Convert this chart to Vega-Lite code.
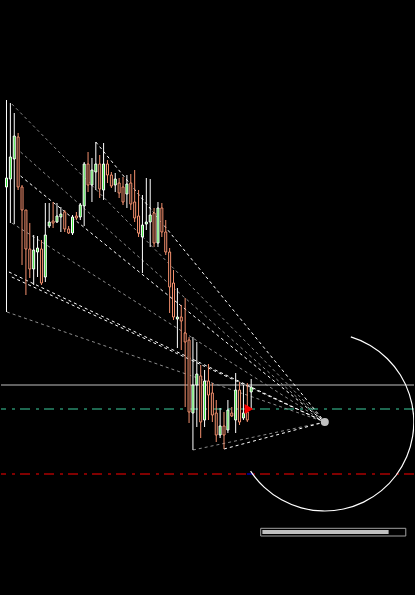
{
  "$schema": "https://vega.github.io/schema/vega-lite/v6.json",
  "autosize": {"type": "fit", "contains": "padding"},
  "padding": 0,
  "width": 415,
  "height": 595,
  "background": "#000000",
  "config": {"view": {"stroke": null}},
  "datasets": {
    "candles": [
      {"k":0,"o":413,"h":500,"l":288,"c":422,"dir":"up"},
      {"k":1,"o":421,"h":497,"l":377,"c":443,"dir":"up"},
      {"k":2,"o":441,"h":487,"l":376,"c":464,"dir":"up"},
      {"k":3,"o":463,"h":467,"l":410,"c":413,"dir":"down"},
      {"k":4,"o":413,"h":415,"l":335,"c":390,"dir":"down"},
      {"k":5,"o":390,"h":390,"l":305,"c":351,"dir":"down"},
      {"k":6,"o":351,"h":377,"l":322,"c":331,"dir":"down"},
      {"k":7,"o":331,"h":365,"l":315,"c":350,"dir":"up"},
      {"k":8,"o":348,"h":364,"l":323,"c":352,"dir":"up"},
      {"k":9,"o":351,"h":360,"l":315,"c":317,"dir":"down"},
      {"k":10,"o":323,"h":397,"l":318,"c":365,"dir":"up"},
      {"k":11,"o":374,"h":397,"l":372,"c":378,"dir":"up"},
      {"k":12,"o":379,"h":398,"l":372,"c":377,"dir":"down"},
      {"k":13,"o":378,"h":397,"l":377,"c":384,"dir":"up"},
      {"k":14,"o":383,"h":393,"l":368,"c":386,"dir":"up"},
      {"k":15,"o":388,"h":390,"l":368,"c":371,"dir":"down"},
      {"k":16,"o":371,"h":374,"l":366,"c":367,"dir":"down"},
      {"k":17,"o":367,"h":385,"l":365,"c":383,"dir":"up"},
      {"k":18,"o":384,"h":388,"l":380,"c":382,"dir":"down"},
      {"k":19,"o":383,"h":397,"l":380,"c":395,"dir":"up"},
      {"k":20,"o":394,"h":438,"l":374,"c":436,"dir":"up"},
      {"k":21,"o":436,"h":448,"l":408,"c":415,"dir":"down"},
      {"k":22,"o":415,"h":442,"l":398,"c":430,"dir":"up"},
      {"k":23,"o":428,"h":458,"l":410,"c":436,"dir":"up"},
      {"k":24,"o":436,"h":445,"l":402,"c":411,"dir":"down"},
      {"k":25,"o":410,"h":457,"l":400,"c":436,"dir":"up"},
      {"k":26,"o":436,"h":440,"l":417,"c":425,"dir":"down"},
      {"k":27,"o":425,"h":428,"l":412,"c":414,"dir":"down"},
      {"k":28,"o":415,"h":427,"l":408,"c":421,"dir":"up"},
      {"k":29,"o":417,"h":422,"l":402,"c":407,"dir":"down"},
      {"k":30,"o":413,"h":423,"l":395,"c":398,"dir":"down"},
      {"k":31,"o":406,"h":425,"l":392,"c":416,"dir":"up"},
      {"k":32,"o":417,"h":426,"l":390,"c":396,"dir":"down"},
      {"k":33,"o":398,"h":430,"l":378,"c":382,"dir":"down"},
      {"k":34,"o":384,"h":410,"l":363,"c":367,"dir":"down"},
      {"k":35,"o":363,"h":405,"l":327,"c":375,"dir":"up"},
      {"k":36,"o":376,"h":422,"l":370,"c":378,"dir":"up"},
      {"k":37,"o":378,"h":421,"l":353,"c":385,"dir":"up"},
      {"k":38,"o":387,"h":392,"l":353,"c":357,"dir":"down"},
      {"k":39,"o":357,"h":398,"l":353,"c":392,"dir":"up"},
      {"k":40,"o":392,"h":397,"l":363,"c":368,"dir":"down"},
      {"k":41,"o":368,"h":380,"l":345,"c":348,"dir":"down"},
      {"k":42,"o":348,"h":352,"l":287,"c":313,"dir":"down"},
      {"k":43,"o":317,"h":330,"l":280,"c":283,"dir":"down"},
      {"k":44,"o":281,"h":312,"l":252,"c":283,"dir":"up"},
      {"k":45,"o":283,"h":295,"l":250,"c":279,"dir":"down"},
      {"k":46,"o":267,"h":302,"l":193,"c":258,"dir":"down"},
      {"k":47,"o":260,"h":263,"l":177,"c":188,"dir":"down"},
      {"k":48,"o":187,"h":263,"l":150,"c":215,"dir":"up"},
      {"k":49,"o":215,"h":258,"l":173,"c":226,"dir":"up"},
      {"k":50,"o":224,"h":235,"l":162,"c":178,"dir":"down"},
      {"k":51,"o":180,"h":230,"l":173,"c":219,"dir":"up"},
      {"k":52,"o":219,"h":236,"l":180,"c":205,"dir":"down"},
      {"k":53,"o":207,"h":217,"l":178,"c":185,"dir":"down"},
      {"k":54,"o":187,"h":200,"l":158,"c":165,"dir":"down"},
      {"k":55,"o":165,"h":192,"l":162,"c":174,"dir":"up"},
      {"k":56,"o":174,"h":188,"l":151,"c":165,"dir":"down"},
      {"k":57,"o":170,"h":200,"l":167,"c":190,"dir":"up"},
      {"k":58,"o":187,"h":193,"l":183,"c":184,"dir":"down"},
      {"k":59,"o":180,"h":227,"l":167,"c":210,"dir":"up"},
      {"k":60,"o":210,"h":218,"l":175,"c":178,"dir":"down"},
      {"k":61,"o":182,"h":215,"l":180,"c":187,"dir":"up"},
      {"k":62,"o":188,"h":217,"l":178,"c":180,"dir":"down"},
      {"k":63,"o":208,"h":221,"l":191,"c":213,"dir":"up"}
    ],
    "fans": [
      {"id":"G1","k":1.375,"p":496,"tone":"gray"},{"id":"G1","k":81.95,"p":178,"tone":"gray"},
      {"id":"X1","k":3.625,"p":448,"tone":"gray"},{"id":"X1","k":81.95,"p":178,"tone":"gray"},
      {"id":"G2","k":1.375,"p":377,"tone":"gray"},{"id":"G2","k":81.95,"p":178,"tone":"gray"},
      {"id":"G3","k":0.125,"p":288,"tone":"gray"},{"id":"G3","k":81.95,"p":178,"tone":"gray"},
      {"id":"G4","k":48,"p":150,"tone":"gray"},{"id":"G4","k":81.95,"p":178,"tone":"gray"},
      {"id":"W1","k":23,"p":458,"tone":"white"},{"id":"W1","k":81.95,"p":178,"tone":"white"},
      {"id":"W2","k":3.625,"p":424,"tone":"white"},{"id":"W2","k":81.95,"p":178,"tone":"white"},
      {"id":"W3","k":0.625,"p":328,"tone":"white"},{"id":"W3","k":81.95,"p":178,"tone":"white"},
      {"id":"W4","k":1.375,"p":323,"tone":"white"},{"id":"W4","k":81.95,"p":178,"tone":"white"},
      {"id":"W5","k":56,"p":151,"tone":"white"},{"id":"W5","k":81.95,"p":178,"tone":"white"}
    ]
  },
  "encoding": {
    "x": {"type": "quantitative", "scale": {"domain": [-0.125, 103.625], "nice": false, "zero": false}, "axis": null},
    "y": {"type": "quantitative", "scale": {"domain": [5, 600], "nice": false, "zero": false}, "axis": null}
  },
  "layer": [
    {
      "data": {"values": [{"level": 215}]},
      "mark": {"type": "rule", "color": "#c0c0c0", "strokeWidth": 1},
      "encoding": {"y": {"field": "level", "type": "quantitative"}}
    },
    {
      "data": {"values": [{"level": 191}]},
      "mark": {"type": "rule", "color": "#3ccfa0", "strokeWidth": 1, "strokeDash": [10, 5, 3, 6]},
      "encoding": {"y": {"field": "level", "type": "quantitative"}}
    },
    {
      "data": {"values": [{"level": 126}]},
      "mark": {"type": "rule", "color": "#ff0000", "strokeWidth": 1, "strokeDash": [10, 5, 3, 6]},
      "encoding": {"y": {"field": "level", "type": "quantitative"}}
    },
    {
      "data": {"values": [{"k0": 61.9, "k1": 63.6, "level": 126}]},
      "mark": {"type": "rule", "color": "#0000ff", "strokeWidth": 1},
      "encoding": {
        "x": {"field": "k0", "type": "quantitative"},
        "x2": {"field": "k1"},
        "y": {"field": "level", "type": "quantitative"}
      }
    },
    {
      "data": {"name": "fans"},
      "mark": {"type": "line", "strokeWidth": 1, "strokeDash": [3, 3], "clip": true},
      "encoding": {
        "x": {"field": "k", "type": "quantitative"},
        "y": {"field": "p", "type": "quantitative"},
        "detail": {"field": "id", "type": "nominal"},
        "stroke": {"field": "tone", "type": "nominal", "scale": {"domain": ["up", "down", "white", "gray"], "range": ["#ffffff", "#f4906e", "#ffffff", "#8c8c8c"]}, "legend": null}
      }
    },
    {
      "data": {"name": "candles"},
      "mark": {"type": "rule", "strokeWidth": 1},
      "encoding": {
        "x": {"field": "k", "type": "quantitative"},
        "y": {"field": "h", "type": "quantitative"},
        "y2": {"field": "l"},
        "stroke": {"field": "dir", "type": "nominal", "legend": null}
      }
    },
    {
      "data": {"name": "candles"},
      "mark": {"type": "bar", "orient": "vertical", "size": 2, "strokeWidth": 1},
      "encoding": {
        "x": {"field": "k", "type": "quantitative"},
        "y": {"field": "o", "type": "quantitative"},
        "y2": {"field": "c"},
        "stroke": {"field": "dir", "type": "nominal", "legend": null},
        "fill": {"field": "dir", "type": "nominal", "scale": {"domain": ["up", "down"], "range": ["#33dd33", "#000000"]}, "legend": null}
      }
    },
    {
      "data": {"values": [{"k": 62.4, "p": 191}]},
      "mark": {"type": "point", "shape": "triangle-right", "filled": true, "color": "#ff0000", "size": 100, "opacity": 1},
      "encoding": {
        "x": {"field": "k", "type": "quantitative"},
        "y": {"field": "p", "type": "quantitative"}
      }
    },
    {
      "data": {"values": [{"cx": 81.95, "cy": 178, "a0": 17, "a1": 236.5, "r0": 88.4, "r1": 89.6}]},
      "mark": {"type": "arc", "fill": "#ffffff", "clip": true},
      "encoding": {
        "x": {"field": "cx", "type": "quantitative"},
        "y": {"field": "cy", "type": "quantitative"},
        "theta": {"field": "a0", "type": "quantitative", "stack": null, "scale": {"type": "linear", "domain": [0, 360], "range": [0, 6.283185307179586]}},
        "theta2": {"field": "a1"},
        "radius": {"field": "r1", "type": "quantitative", "scale": {"type": "linear", "domain": [0, 100], "range": [0, 100], "zero": true}},
        "radius2": {"field": "r0"}
      }
    },
    {
      "data": {"values": [{"k": 81.95, "p": 178}]},
      "mark": {"type": "point", "shape": "circle", "filled": true, "color": "#c0c0c0", "size": 64, "opacity": 1},
      "encoding": {
        "x": {"field": "k", "type": "quantitative"},
        "y": {"field": "p", "type": "quantitative"}
      }
    },
    {
      "data": {"values": [{"k0": 65.45, "k1": 102.8, "p0": 71.7, "p1": 64}]},
      "mark": {"type": "rect", "fill": null, "stroke": "#a0a0a0", "strokeWidth": 1},
      "encoding": {
        "x": {"field": "k0", "type": "quantitative"},
        "x2": {"field": "k1"},
        "y": {"field": "p0", "type": "quantitative"},
        "y2": {"field": "p1"}
      }
    },
    {
      "data": {"values": [{"k0": 65.875, "k1": 98.375, "p0": 70, "p1": 66}]},
      "mark": {"type": "rect", "fill": "#c0c0c0"},
      "encoding": {
        "x": {"field": "k0", "type": "quantitative"},
        "x2": {"field": "k1"},
        "y": {"field": "p0", "type": "quantitative"},
        "y2": {"field": "p1"}
      }
    }
  ]
}
